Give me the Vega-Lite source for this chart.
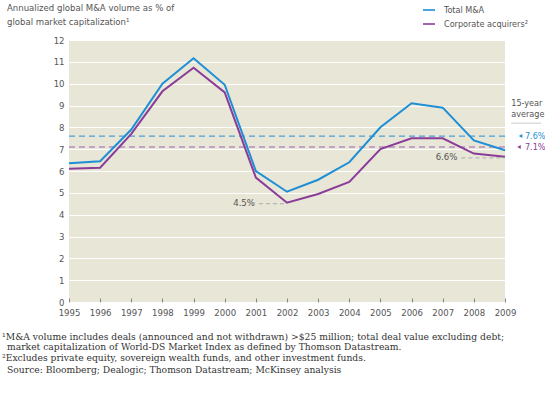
{
  "$schema": "https://vega.github.io/schema/vega-lite/v6.json",
  "width": 436,
  "height": 262,
  "autosize": {"type": "none"},
  "padding": {"left": 69, "top": 40, "right": 40, "bottom": 91},
  "background": "white",
  "config": {
    "view": {"fill": "#e8e6d7", "stroke": null},
    "font": "DejaVu Sans Condensed",
    "axis": {"labelFont": "DejaVu Sans Condensed", "labelColor": "#555555", "labelFontSize": 9.5, "domain": false, "title": null, "labelOverlap": false}
  },
  "datasets": {
    "series": [
      {"year": 1995, "series": "Total M&A", "value": 6.35},
      {"year": 1996, "series": "Total M&A", "value": 6.45},
      {"year": 1997, "series": "Total M&A", "value": 7.9},
      {"year": 1998, "series": "Total M&A", "value": 10.0},
      {"year": 1999, "series": "Total M&A", "value": 11.16},
      {"year": 2000, "series": "Total M&A", "value": 9.95},
      {"year": 2001, "series": "Total M&A", "value": 6.0},
      {"year": 2002, "series": "Total M&A", "value": 5.05},
      {"year": 2003, "series": "Total M&A", "value": 5.6},
      {"year": 2004, "series": "Total M&A", "value": 6.4},
      {"year": 2005, "series": "Total M&A", "value": 8.0},
      {"year": 2006, "series": "Total M&A", "value": 9.1},
      {"year": 2007, "series": "Total M&A", "value": 8.9},
      {"year": 2008, "series": "Total M&A", "value": 7.4},
      {"year": 2009, "series": "Total M&A", "value": 6.95},
      {"year": 1995, "series": "Corporate acquirers²", "value": 6.1},
      {"year": 1996, "series": "Corporate acquirers²", "value": 6.15},
      {"year": 1997, "series": "Corporate acquirers²", "value": 7.7},
      {"year": 1998, "series": "Corporate acquirers²", "value": 9.65},
      {"year": 1999, "series": "Corporate acquirers²", "value": 10.73},
      {"year": 2000, "series": "Corporate acquirers²", "value": 9.6},
      {"year": 2001, "series": "Corporate acquirers²", "value": 5.7},
      {"year": 2002, "series": "Corporate acquirers²", "value": 4.55},
      {"year": 2003, "series": "Corporate acquirers²", "value": 4.95},
      {"year": 2004, "series": "Corporate acquirers²", "value": 5.5},
      {"year": 2005, "series": "Corporate acquirers²", "value": 7.0},
      {"year": 2006, "series": "Corporate acquirers²", "value": 7.5},
      {"year": 2007, "series": "Corporate acquirers²", "value": 7.5},
      {"year": 2008, "series": "Corporate acquirers²", "value": 6.8},
      {"year": 2009, "series": "Corporate acquirers²", "value": 6.65}
    ],
    "avg": [
      {"series": "Total M&A", "avg": 7.6, "label": "7.6%", "tx": 2009.5, "lx": 2009.64},
      {"series": "Corporate acquirers²", "avg": 7.1, "label": "7.1%", "tx": 2009.45, "lx": 2009.64}
    ],
    "leaders": [
      {"x1": 2001.1, "x2": 2002, "v": 4.5},
      {"x1": 2007.6, "x2": 2009, "v": 6.6}
    ],
    "callouts": [
      {"x": 2000.97, "v": 4.52, "t": "4.5%"},
      {"x": 2007.47, "v": 6.64, "t": "6.6%"}
    ],
    "notes": [
      {"x": 2009.2, "v": 9.1, "t": "15-year"},
      {"x": 2009.2, "v": 8.6, "t": "average"}
    ],
    "heading": [
      {"x": 1993.01, "v": 13.47, "t": "Annualized global M&A volume as % of"},
      {"x": 1993.01, "v": 12.82, "t": "global market capitalization¹"}
    ],
    "foot": [
      {"x": 1992.85, "v": -1.59, "t": "¹M&A volume includes deals (announced and not withdrawn) >$25 million; total deal value excluding debt;"},
      {"x": 1993.01, "v": -2.08, "t": "market capitalization of World-DS Market Index as defined by Thomson Datastream."},
      {"x": 1992.85, "v": -2.56, "t": "²Excludes private equity, sovereign wealth funds, and other investment funds."},
      {"x": 1993.01, "v": -3.1, "t": "Source: Bloomberg; Dealogic; Thomson Datastream; McKinsey analysis"}
    ],
    "sep": [
      {"x1": 2009.2, "x2": 2010.16, "v": 8.19}
    ]
  },
  "layer": [
    {
      "data": {"name": "avg"},
      "mark": {"type": "rule", "strokeDash": [6, 4], "strokeWidth": 1.3},
      "encoding": {
        "y": {"field": "avg", "type": "quantitative", "scale": {"domain": [0, 12]},
              "axis": {"values": [0,1,2,3,4,5,6,7,8,9,10,11,12], "format": "d", "tickCount": 20, "labelOverlap": false, "grid": true, "gridColor": "white", "gridWidth": 1, "ticks": false, "labelPadding": 5}},
        "color": {"condition": {"test": "datum.series === 'Total M&A'", "value": "#4aa0d8"}, "value": "#b78cbf"}
      }
    },
    {
      "data": {"name": "series"},
      "mark": {"type": "line", "strokeWidth": 2},
      "encoding": {
        "x": {"field": "year", "type": "quantitative", "scale": {"domain": [1995, 2009], "nice": false, "zero": false},
              "axis": {"values": [1995,1996,1997,1998,1999,2000,2001,2002,2003,2004,2005,2006,2007,2008,2009], "tickCount": 20, "labelOverlap": false, "format": "d", "grid": false, "tickSize": -4, "tickColor": "#888888", "labelPadding": 9, "labelFlush": false}},
        "y": {"field": "value", "type": "quantitative", "axis": {"values": [0,1,2,3,4,5,6,7,8,9,10,11,12], "format": "d", "tickCount": 20, "labelOverlap": false, "grid": true, "gridColor": "white", "gridWidth": 1, "ticks": false, "labelPadding": 5}},
        "color": {"field": "series", "type": "nominal",
                  "scale": {"domain": ["Total M&A", "Corporate acquirers²"], "range": ["#1e8fd5", "#8a3c98"]},
                  "legend": {"orient": "none", "legendX": 353, "legendY": -37, "title": null, "symbolType": "stroke", "symbolSize": 144, "symbolStrokeWidth": 1.6, "labelFontSize": 9, "labelColor": "#555555", "labelFont": "DejaVu Sans Condensed", "labelOffset": 8, "rowPadding": 2}}
      }
    },
    {
      "data": {"name": "leaders"},
      "mark": {"type": "rule", "strokeDash": [4, 3], "color": "#aaaaaa", "strokeWidth": 1},
      "encoding": {"x": {"field": "x1", "type": "quantitative"}, "x2": {"field": "x2"}, "y": {"field": "v", "type": "quantitative"}}
    },
    {
      "data": {"name": "sep"},
      "mark": {"type": "rule", "color": "#cccccc", "strokeWidth": 1},
      "encoding": {"x": {"field": "x1", "type": "quantitative"}, "x2": {"field": "x2"}, "y": {"field": "v", "type": "quantitative"}}
    },
    {
      "data": {"name": "callouts"},
      "mark": {"type": "text", "fontSize": 9.5, "color": "#555555", "baseline": "middle", "align": "right"},
      "encoding": {"x": {"field": "x", "type": "quantitative"}, "y": {"field": "v", "type": "quantitative"}, "text": {"field": "t"}}
    },
    {
      "data": {"name": "notes"},
      "mark": {"type": "text", "fontSize": 9, "color": "#555555", "baseline": "middle", "align": "left"},
      "encoding": {"x": {"field": "x", "type": "quantitative"}, "y": {"field": "v", "type": "quantitative"}, "text": {"field": "t"}}
    },
    {
      "data": {"name": "avg"},
      "mark": {"type": "point", "shape": "triangle-left", "filled": true, "size": 16, "opacity": 1},
      "encoding": {
        "x": {"field": "tx", "type": "quantitative"},
        "y": {"field": "avg", "type": "quantitative"},
        "color": {"condition": {"test": "datum.series === 'Total M&A'", "value": "#1e8fd5"}, "value": "#8a3c98"}
      }
    },
    {
      "data": {"name": "avg"},
      "mark": {"type": "text", "fontSize": 9, "baseline": "middle", "align": "left"},
      "encoding": {
        "x": {"field": "lx", "type": "quantitative"},
        "y": {"field": "avg", "type": "quantitative"},
        "text": {"field": "label"},
        "color": {"condition": {"test": "datum.series === 'Total M&A'", "value": "#1e8fd5"}, "value": "#8a3c98"}
      }
    },
    {
      "data": {"name": "heading"},
      "mark": {"type": "text", "fontSize": 9.5, "color": "#555555", "baseline": "middle", "align": "left"},
      "encoding": {"x": {"field": "x", "type": "quantitative"}, "y": {"field": "v", "type": "quantitative"}, "text": {"field": "t"}}
    },
    {
      "data": {"name": "foot"},
      "mark": {"type": "text", "fontSize": 9.2, "font": "DejaVu Serif", "color": "#333333", "baseline": "middle", "align": "left"},
      "encoding": {"x": {"field": "x", "type": "quantitative"}, "y": {"field": "v", "type": "quantitative"}, "text": {"field": "t"}}
    }
  ]
}
